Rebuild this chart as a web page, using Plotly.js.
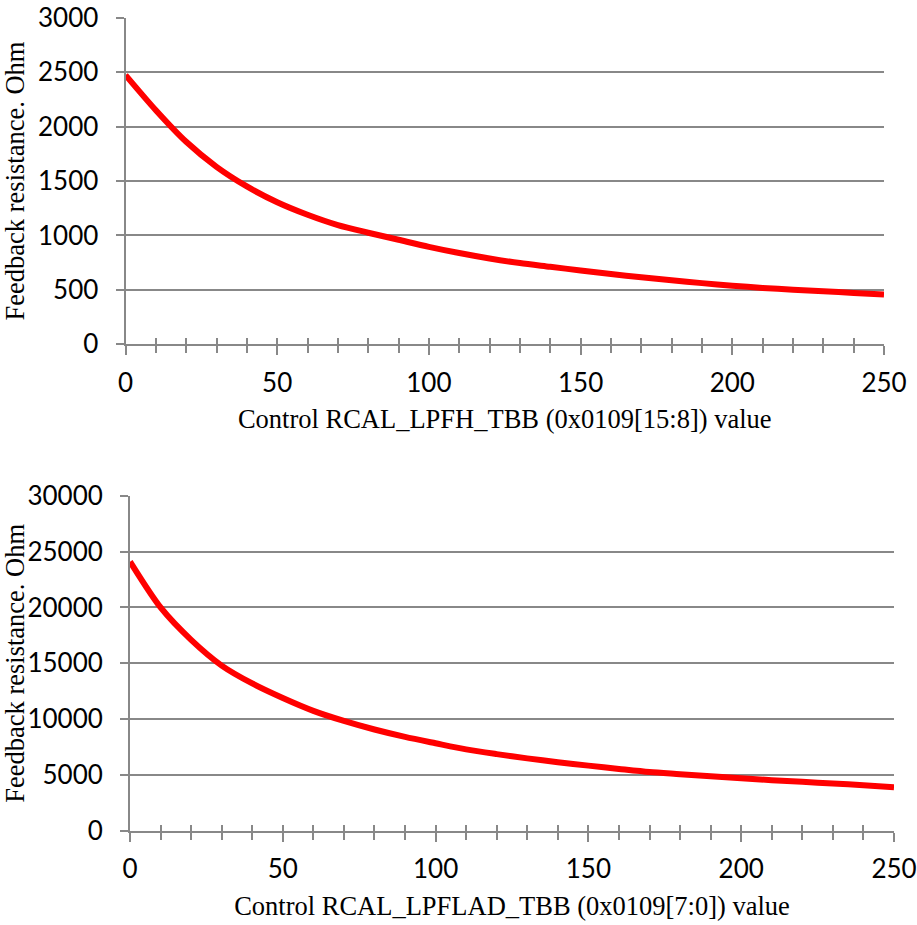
<!DOCTYPE html>
<html><head><meta charset="utf-8">
<script src="https://cdn.plot.ly/plotly-3.0.1.min.js"></script>
<style>html,body{margin:0;padding:0;background:#fff}#chart{width:917px;height:925px}</style>
</head><body><div id="chart"></div>
<script>
const xCodes = [0,10,20,30,40,50,60,70,80,90,100,110,120,130,140,150,160,170,180,190,200,210,220,230,240,250];
const rLPFH = [2473,2150,1860,1630,1450,1305,1190,1095,1025,960,895,838,788,746,712,678,645,615,588,562,538,518,502,487,472,458];
const rLPFLAD = [24100,20000,17100,14800,13200,11900,10750,9850,9080,8420,7850,7300,6880,6500,6160,5850,5550,5270,5080,4890,4720,4550,4400,4250,4100,3920];
const yTitle = "Feedback resistance. Ohm";
const xTitleTop = "Control RCAL_LPFH_TBB (0x0109[15:8]) value";
const xTitleBottom = "Control RCAL_LPFLAD_TBB (0x0109[7:0]) value";

const grid = "#888888";
const tickFont = {family: "Lato, 'Liberation Sans', sans-serif", size: 26, color: "#000"};
const titleFont = {family: "'Liberation Serif', 'Times New Roman', serif", size: 26.5, color: "#000"};

function xAx(domain, anchor, title){
  return {domain, anchor, range:[0,250], dtick:50, tick0:0, showgrid:false, zeroline:false,
    showline:true, linecolor:grid, linewidth:2, ticks:"outside", ticklen:9, tickwidth:2, tickcolor:grid,
    minor:{dtick:10, ticks:"outside", ticklen:7, tickwidth:2, tickcolor:grid},
    tickfont:tickFont, ticklabelstandoff:5, tickformat:"d",
    title:{text:title, font:titleFont, standoff:13}};
}
function xOver(over, anchor, domain){
  return {overlaying:over, anchor, domain, range:[0,250], dtick:10, tick0:0, showgrid:false, zeroline:false,
    showline:false, ticks:"inside", ticklen:6, tickwidth:2, tickcolor:grid, showticklabels:false};
}
function yAx(domain, anchor, range, dtick, standoff){
  return {domain, anchor, range, dtick, showgrid:true, gridcolor:grid, gridwidth:2, zeroline:false,
    showline:true, linecolor:grid, linewidth:2, ticks:"outside", ticklen:8, tickwidth:2, tickcolor:grid,
    tickfont:tickFont, ticklabelstandoff:12, tickformat:"d", separatethousands:false, exponentformat:"none",
    title:{text:yTitle, font:titleFont, standoff}};
}

const topXDomain = [125.5/917, 884/917];
const botXDomain = [130/917, 894/917];

const data = [
  {x:xCodes, y:rLPFH, xaxis:"x", yaxis:"y", type:"scatter", mode:"lines", line:{color:"#ff0000", width:6, shape:"spline", smoothing:0.8}, hoverinfo:"skip"},
  {x:xCodes, y:rLPFLAD, xaxis:"x2", yaxis:"y2", type:"scatter", mode:"lines", line:{color:"#ff0000", width:6, shape:"spline", smoothing:0.8}, hoverinfo:"skip"},
  {x:[0,250], y:[null,null], xaxis:"x3", yaxis:"y", type:"scatter", mode:"lines", hoverinfo:"skip"},
  {x:[0,250], y:[null,null], xaxis:"x4", yaxis:"y2", type:"scatter", mode:"lines", hoverinfo:"skip"}
];

const layout = {
  width:917, height:925, showlegend:false,
  paper_bgcolor:"#fff", plot_bgcolor:"rgba(0,0,0,0)",
  margin:{l:0,r:0,t:0,b:0},
  xaxis: xAx(topXDomain, "y", xTitleTop),
  yaxis: yAx([1-344.3/925, 1-17.7/925], "x", [0,3000], 500, 11),
  xaxis2: xAx(botXDomain, "y2", xTitleBottom),
  yaxis2: yAx([1-831/925, 1-495.7/925], "x2", [0,30000], 5000, 4),
  xaxis3: xOver("x", "y", topXDomain),
  xaxis4: xOver("x2", "y2", botXDomain)
};

Plotly.newPlot("chart", data, layout, {staticPlot:true, displayModeBar:false});
</script></body></html>
